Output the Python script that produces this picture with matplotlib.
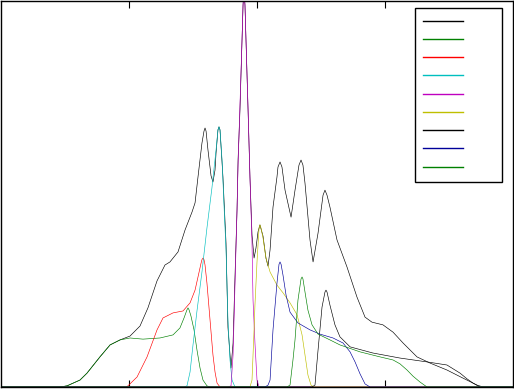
import matplotlib
matplotlib.use('Agg')
import matplotlib.pyplot as plt

# total curve
total_x = [0, 0.461, 0.516, 0.617, 0.672, 0.773, 0.852, 0.930, 1.008, 1.086,
           1.148, 1.219, 1.281, 1.320, 1.383, 1.438, 1.492, 1.516, 1.539, 1.570,
           1.586, 1.594, 1.602, 1.617, 1.641, 1.656, 1.672, 1.680, 1.695, 1.703,
           1.711, 1.734, 1.758, 1.773, 1.797, 1.813,
           1.828, 1.844, 1.852, 1.867, 1.883, 1.891, 1.898, 1.906, 1.914, 1.930, 1.945, 1.961,
           1.977, 1.992, 2.008, 2.023, 2.047, 2.070, 2.086, 2.102, 2.125, 2.156,
           2.164, 2.180, 2.195, 2.219, 2.266, 2.297, 2.328, 2.344, 2.359, 2.375,
           2.414, 2.438, 2.477, 2.516, 2.531, 2.547,
           2.570, 2.625, 2.703, 2.781, 2.844, 2.898, 2.984, 3.063, 3.141, 3.250,
           3.352, 3.484, 3.609, 3.719, 3.766, 4.0]
total_y = [0, 0, 0.003, 0.018, 0.036, 0.078, 0.109, 0.122, 0.132, 0.158,
           0.205, 0.275, 0.316, 0.324, 0.350, 0.407, 0.453, 0.477, 0.544, 0.632,
           0.663, 0.671, 0.663, 0.614, 0.547, 0.531, 0.562, 0.606, 0.666, 0.674,
           0.666, 0.544, 0.373, 0.155, 0.049, 0.114,
           0.285, 0.459, 0.588, 0.718, 0.899, 0.990, 1.028, 0.990, 0.899, 0.718, 0.544, 0.394,
           0.334, 0.360, 0.402, 0.420, 0.391, 0.334, 0.313, 0.355, 0.466, 0.544,
           0.570, 0.583, 0.570, 0.510, 0.440, 0.510, 0.575, 0.588, 0.575, 0.528,
           0.381, 0.324, 0.399, 0.497, 0.510, 0.497,
           0.466, 0.381, 0.311, 0.233, 0.181, 0.168, 0.161, 0.142, 0.114, 0.078,
           0.062, 0.044, 0.023, 0.005, 0, 0]

# components
g1_x = [0, 0.461, 0.516, 0.617, 0.672, 0.773, 0.852, 0.930, 1.008, 1.109, 1.242,
        1.344, 1.398, 1.430, 1.453, 1.461, 1.469, 1.484, 1.508, 1.531, 1.555, 1.578,
        1.609, 1.633, 4.0]
g1_y = [0, 0, 0.003, 0.018, 0.036, 0.078, 0.109, 0.122, 0.127, 0.124, 0.127,
        0.135, 0.153, 0.179, 0.200, 0.205, 0.200, 0.184, 0.148, 0.096, 0.049, 0.018,
        0.003, 0, 0]

r_x = [0, 0.977, 0.992, 1.063, 1.141, 1.219, 1.266, 1.344, 1.422, 1.477, 1.516,
       1.539, 1.563, 1.570, 1.578, 1.586, 1.594, 1.609, 1.633, 1.656, 1.672, 1.688,
       1.711, 4.0]
r_y = [0, 0, 0.003, 0.026, 0.078, 0.148, 0.179, 0.192, 0.197, 0.218, 0.251,
       0.285, 0.321, 0.330, 0.334, 0.330, 0.316, 0.269, 0.174, 0.083, 0.039, 0.010,
       0, 0]

c_x = [0, 1.430, 1.453, 1.477, 1.500, 1.531, 1.570, 1.609, 1.648, 1.680, 1.695,
       1.703, 1.711, 1.727, 1.742, 1.758, 1.773, 1.789, 1.805, 1.828, 4.0]
c_y = [0, 0, 0.003, 0.039, 0.109, 0.197, 0.298, 0.412, 0.516, 0.614, 0.666,
       0.674, 0.666, 0.588, 0.472, 0.355, 0.174, 0.070, 0.018, 0, 0]

m_x = [0, 1.773, 1.797, 1.813, 1.828, 1.844, 1.852, 1.867, 1.883, 1.891, 1.898,
       1.906, 1.914, 1.930, 1.945, 1.961, 1.969, 1.984, 2.000, 2.016, 4.0]
m_y = [0, 0, 0.003, 0.083, 0.264, 0.459, 0.575, 0.731, 0.899, 0.990, 1.028,
       0.990, 0.899, 0.723, 0.544, 0.373, 0.225, 0.114, 0.018, 0, 0]

y_x = [0, 1.945, 1.961, 1.977, 1.984, 2.000, 2.016, 2.023, 2.031, 2.047, 2.070,
       2.102, 2.156, 2.203, 2.258, 2.313, 2.352, 2.375, 2.398, 2.422, 2.445, 4.0]
y_y = [0, 0, 0.018, 0.148, 0.212, 0.324, 0.412, 0.420, 0.412, 0.386, 0.334,
       0.298, 0.264, 0.244, 0.218, 0.187, 0.135, 0.083, 0.031, 0.005, 0, 0]

k_x = [0, 2.430, 2.453, 2.477, 2.508, 2.531, 2.539, 2.547, 2.570, 2.609, 2.648,
       2.727, 2.906, 3.117, 3.328, 3.484, 3.586, 3.641, 3.688, 3.742, 4.0]
k_y = [0, 0, 0.005, 0.096, 0.207, 0.246, 0.251, 0.246, 0.212, 0.161, 0.130,
       0.104, 0.088, 0.075, 0.065, 0.057, 0.036, 0.021, 0.010, 0, 0]

b_x = [0, 2.063, 2.086, 2.102, 2.125, 2.156, 2.172, 2.180, 2.188, 2.203, 2.227,
       2.258, 2.320, 2.414, 2.492, 2.594, 2.672, 2.727, 2.766, 2.805, 2.844,
       2.883, 4.0]
b_y = [0, 0, 0.005, 0.018, 0.148, 0.269, 0.318, 0.324, 0.318, 0.290, 0.238,
       0.194, 0.166, 0.148, 0.137, 0.127, 0.114, 0.091, 0.065, 0.034, 0.008,
       0, 0]

g2_x = [0, 2.234, 2.258, 2.281, 2.297, 2.320, 2.344, 2.352, 2.359, 2.375, 2.398,
        2.430, 2.477, 2.570, 2.648, 2.805, 2.961, 3.063, 3.117, 3.172, 3.219,
        3.273, 3.328, 4.0]
g2_y = [0, 0, 0.005, 0.070, 0.122, 0.225, 0.280, 0.285, 0.280, 0.246, 0.199,
        0.161, 0.137, 0.122, 0.109, 0.091, 0.078, 0.070, 0.060, 0.044, 0.028,
        0.013, 0, 0]

labels = ['sum', 'p1', 'p2', 'p3', 'p4', 'p5', 'p6', 'p7', 'p8']

fig = plt.figure(figsize=(5.14, 3.89), dpi=100)
ax = fig.add_axes([1 / 514, 2 / 389, 512 / 514, 386 / 389])

lw = 0.45
ax.plot(total_x, total_y, color='k', lw=lw, label=labels[0])
ax.plot(g1_x, g1_y, color=(0, 0.5, 0), lw=lw, label=labels[1])
ax.plot(r_x, r_y, color='r', lw=lw, label=labels[2])
ax.plot(c_x, c_y, color=(0, 0.75, 0.75), lw=lw, label=labels[3])
ax.plot(m_x, m_y, color=(0.75, 0, 0.75), lw=lw, label=labels[4])
ax.plot(y_x, y_y, color=(0.75, 0.75, 0), lw=lw, label=labels[5])
ax.plot(k_x, k_y, color='k', lw=lw, label=labels[6])
ax.plot(b_x, b_y, color=(0, 0, 0.6), lw=lw, label=labels[7])
ax.plot(g2_x, g2_y, color=(0, 0.5, 0), lw=lw, label=labels[8])

ax.set_xlim(0, 4)
ax.set_ylim(0, 1)
ax.set_xticks([1, 2, 3])
ax.set_yticks([])
ax.tick_params(axis='x', direction='in', length=5, top=True, bottom=True,
               labelbottom=False)
for s in ax.spines.values():
    s.set_linewidth(1.0)

leg = ax.legend(loc='upper right', bbox_to_anchor=(0.9785, 0.983),
                fontsize=9, handlelength=3.2, labelspacing=0.42,
                borderpad=0.6, handletextpad=0.4, fancybox=False, framealpha=1,
                borderaxespad=0)
leg.get_frame().set_edgecolor('black')
leg.get_frame().set_linewidth(1.0)
for t in leg.get_texts():
    t.set_color('white')
for line in leg.get_lines():
    line.set_linewidth(1.0)

fig.savefig('out.png', dpi=100)
